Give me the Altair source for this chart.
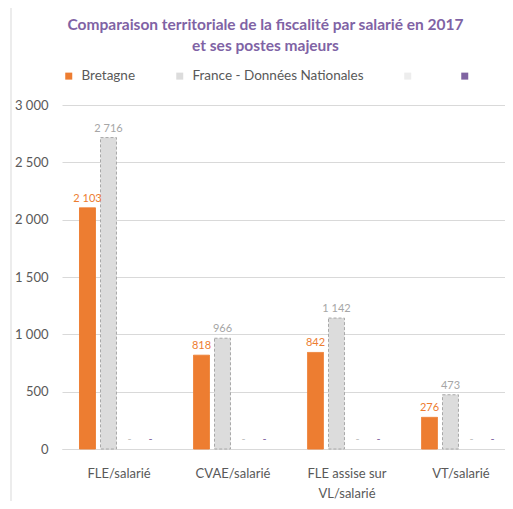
import altair as alt
import pandas as pd

categories = ["FLE/salarié", "CVAE/salarié", "FLE assise sur VL/salarié", "VT/salarié"]
series_names = ["Bretagne", "France - Données Nationales", "Série 3", "Série 4"]
bretagne = [2103, 818, 842, 276]
france = [2716, 966, 1142, 473]
serie3 = [0, 0, 0, 0]
serie4 = [0, 0, 0, 0]
y_ticks = [0, 500, 1000, 1500, 2000, 2500, 3000]

rows = []
for name, vals in zip(series_names, [bretagne, france, serie3, serie4]):
    for c, v in zip(categories, vals):
        rows.append({"cat": c, "series": name, "value": v})
df = pd.DataFrame(rows)

FONT = "Lato"
fill_range = ["#ED7D31", "#DCDCDC", "#EDEDED", "#8064A2"]
stroke_range = ["#ED7D31", "#A8A8A8", "#D0D0D0", "#8064A2"]
text_range = ["#ED7D31", "#A6A6A6", "#BFBFBF", "#8064A2"]

x = alt.X("cat:N", sort=categories, title=None,
          scale=alt.Scale(range=[0, 456], paddingInner=0.307, paddingOuter=0.1535),
          axis=alt.Axis(labelAngle=0, ticks=False, domainColor="#D9D9D9",
                        labelPadding=18, labelFont=FONT, labelFontSize=13,
                        labelColor="#595959", labelLineHeight=20,
                        labelExpr="datum.value == 'FLE assise sur VL/salarié' ? ['FLE assise sur', 'VL/salarié'] : datum.label"))
xo = alt.XOffset("series:N", sort=series_names,
                 scale=alt.Scale(paddingInner=0.24, paddingOuter=0))
y = alt.Y("value:Q", title=None,
          scale=alt.Scale(domain=[0, 3000], nice=False),
          axis=alt.Axis(values=y_ticks,
                        labelExpr="replace(format(datum.value, ','), ',', ' ')",
                        ticks=False, domain=False, gridColor="#D9D9D9",
                        labelPadding=14, labelFont=FONT, labelFontSize=13,
                        labelColor="#595959"))

base = alt.Chart(df)

bars = base.transform_filter("datum.value > 0").mark_bar(strokeWidth=1).encode(
    x=x, xOffset=xo, y=y,
    fill=alt.Fill("series:N", sort=series_names,
                  scale=alt.Scale(domain=series_names, range=fill_range),
                  legend=alt.Legend(orient="none", legendX=0, legendY=-36,
                                    direction="horizontal", title=None,
                                    symbolType="square", symbolSize=49,
                                    symbolStrokeWidth=0,
                                    labelFont=FONT, labelFontSize=13.5,
                                    labelColor="#595959", columnPadding=37,
                                    labelOffset=6, labelLimit=400,
                                    labelExpr="datum.label == 'Série 3' || datum.label == 'Série 4' ? '' : datum.label")),
    stroke=alt.Stroke("series:N", sort=series_names,
                      scale=alt.Scale(domain=series_names, range=stroke_range),
                      legend=None),
    strokeDash=alt.StrokeDash("series:N", sort=series_names,
                              scale=alt.Scale(domain=series_names,
                                              range=[[1, 0], [3, 2], [3, 2], [1, 0]]),
                              legend=None),
)

labels = base.transform_calculate(
    label="datum.value == 0 ? '-' : replace(format(datum.value, ','), ',', ' ')"
).mark_text(dy=-9, font=FONT, fontSize=11).encode(
    x=x, xOffset=xo, y=y,
    text="label:N",
    color=alt.Color("series:N", sort=series_names,
                    scale=alt.Scale(domain=series_names, range=text_range),
                    legend=None),
)

frame_v = alt.Chart(alt.Data(values=[{"a": 1}])).mark_rule(color="#D9D9D9").encode(
    x=alt.value(-51), y=alt.value(-99), y2=alt.value(400))
frame_h = alt.Chart(alt.Data(values=[{"a": 1}])).mark_rule(color="#D9D9D9").encode(
    x=alt.value(-51), x2=alt.value(460), y=alt.value(-99))

chart = alt.layer(frame_v, frame_h, bars, labels).resolve_scale(
    fill="independent", stroke="independent", color="independent",
    strokeDash="independent"
).properties(
    width=443, height=344,
    autosize=alt.AutoSizeParams(type="none"),
    padding={"left": 54, "top": 97, "right": 0, "bottom": 52},
    title=alt.TitleParams(
        text=["Comparaison territoriale de la fiscalité par salarié en 2017",
              "et ses postes majeurs"],
        anchor="middle", font=FONT, fontSize=15.5, fontWeight="bold",
        color="#7F63A5", lineHeight=21, dx=-18, offset=0, dy=49),
).configure_view(stroke=None)

chart.save("out.html", embed_options={"renderer": "svg", "actions": False})
